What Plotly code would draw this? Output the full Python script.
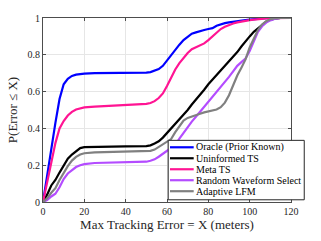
import plotly.graph_objects as go

x_err = [0, 2, 4, 6, 8, 10, 12, 14, 16, 18, 20, 25, 30, 40, 50, 52, 54, 56, 58, 60,
         62, 64, 66, 68, 70, 72, 74, 76, 78, 80, 82, 84, 86, 88, 90, 92, 94, 96, 98, 100,
         102, 104, 106, 108, 110, 112, 115, 120]

oracle = [0, 0.15, 0.3, 0.43, 0.56, 0.64, 0.67, 0.685, 0.692, 0.696, 0.698, 0.70, 0.70, 0.70,
          0.703, 0.706, 0.712, 0.722, 0.74, 0.77, 0.80, 0.827, 0.855, 0.88, 0.90, 0.915,
          0.922, 0.93, 0.935, 0.94, 0.945, 0.958, 0.967, 0.972, 0.976, 0.98, 0.983, 0.985,
          0.988, 0.991, 0.994, 0.997, 0.998, 0.999, 1, 1, 1, 1]

uninformed = [0, 0.04, 0.09, 0.12, 0.16, 0.2, 0.235, 0.258, 0.278, 0.293, 0.298, 0.30, 0.301,
              0.302, 0.304, 0.308, 0.318, 0.33, 0.35, 0.375, 0.40, 0.42, 0.445, 0.47, 0.50,
              0.53, 0.555, 0.58, 0.61, 0.64, 0.665, 0.69, 0.715, 0.735, 0.76, 0.785, 0.815,
              0.845, 0.875, 0.9, 0.925, 0.945, 0.965, 0.98, 0.99, 0.996, 1, 1]

meta = [0, 0.11, 0.23, 0.32, 0.40, 0.44, 0.47, 0.49, 0.503, 0.51, 0.514, 0.518, 0.521, 0.525,
        0.533, 0.538, 0.548, 0.565, 0.59, 0.63, 0.675, 0.72, 0.755, 0.785, 0.81, 0.83, 0.84,
        0.85, 0.862, 0.88, 0.9, 0.922, 0.94, 0.952, 0.962, 0.97, 0.976, 0.981, 0.985, 0.988,
        0.991, 0.994, 0.996, 0.998, 0.999, 1, 1, 1]

random_wf = [0, 0.01, 0.03, 0.045, 0.08, 0.125, 0.155, 0.175, 0.19, 0.2, 0.206, 0.212, 0.214,
             0.216, 0.219, 0.224, 0.232, 0.246, 0.262, 0.275, 0.29, 0.31, 0.345, 0.378, 0.41,
             0.437, 0.463, 0.49, 0.515, 0.54, 0.566, 0.594, 0.622, 0.65, 0.68, 0.71, 0.74,
             0.76, 0.78, 0.82, 0.875, 0.925, 0.955, 0.975, 0.987, 0.995, 1, 1]

adaptive = [0, 0.02, 0.05, 0.075, 0.12, 0.16, 0.195, 0.225, 0.245, 0.258, 0.265, 0.27, 0.271,
            0.272, 0.274, 0.278, 0.285, 0.30, 0.315, 0.33, 0.342, 0.38, 0.415, 0.443, 0.457,
            0.466, 0.474, 0.48, 0.487, 0.493, 0.498, 0.503, 0.515, 0.54, 0.58, 0.635, 0.687,
            0.73, 0.775, 0.84, 0.89, 0.935, 0.965, 0.983, 0.993, 0.998, 1, 1]

names = ["Oracle (Prior Known)", "Uninformed TS", "Meta TS", "Random Waveform Select", "Adaptive LFM"]
series = [oracle, uninformed, meta, random_wf, adaptive]
colors = ["#0000FF", "#000000", "#FF1493", "#B44CFF", "#808080"]

x_ticks = [0, 20, 40, 60, 80, 100, 120]
y_ticks = [0, 0.2, 0.4, 0.6, 0.8, 1]
y_tick_text = ["0", "0.2", "0.4", "0.6", "0.8", "1"]

FONT = "'Liberation Serif', 'Times New Roman', Times, 'DejaVu Serif', serif"
fig = go.Figure()
for name, ys, col in zip(names, series, colors):
    fig.add_trace(go.Scatter(x=x_err, y=ys, mode="lines", name=name,
                             line=dict(color=col, width=2.2), showlegend=False))

axis_common = dict(showline=True, mirror="ticks", linecolor="#4d4d4d", linewidth=1,
                   ticks="inside", ticklen=3, tickcolor="#4d4d4d",
                   showgrid=True, gridcolor="#e6e6e6", gridwidth=1, zeroline=False,
                   tickfont=dict(family=FONT, size=10, color="#262626"))

fig.update_xaxes(range=[0, 120], tickvals=x_ticks,
                 title=dict(text="Max Tracking Error = X (meters)",
                            font=dict(family=FONT, size=13, color="#262626"), standoff=3),
                 **axis_common)
fig.update_yaxes(range=[0, 1], tickvals=y_ticks, ticktext=y_tick_text,
                 title=dict(text="P(Error ≤ X)",
                            font=dict(family=FONT, size=13, color="#262626"), standoff=6),
                 **axis_common)

# manual legend (box, samples, text)
plot_l, plot_r, plot_t, plot_b = 42, 291, 17, 208
def px(xp):
    return (xp - plot_l) / (plot_r - plot_l)
def py(yp):
    return (plot_b - yp) / (plot_b - plot_t)

shapes = [dict(type="rect", xref="paper", yref="paper", x0=px(167.7), x1=px(304.3),
               y0=py(205.7), y1=py(144), fillcolor="white", line=dict(color="#262626", width=1),
               layer="above")]
annotations = []
row_y = [151.2, 162.6, 174.0, 185.4, 196.8]
for name, col, yy in zip(names, colors, row_y):
    shapes.append(dict(type="line", xref="paper", yref="paper", x0=px(169.5), x1=px(193.3),
                       y0=py(yy), y1=py(yy), line=dict(color=col, width=2.2), layer="above"))
    annotations.append(dict(text=name, xref="paper", yref="paper", x=px(193.5), y=py(yy),
                            xanchor="left", yanchor="middle", showarrow=False,
                            font=dict(family=FONT, size=10, color="#000000")))

fig.update_layout(width=321, height=241, margin=dict(l=42, r=30, t=17, b=33),
                  plot_bgcolor="white", paper_bgcolor="white",
                  font=dict(family=FONT),
                  shapes=shapes, annotations=annotations, showlegend=False)

fig.write_html("out.html", config={"displayModeBar": False},
               post_script="document.body.style.margin='0';document.body.style.padding='0';")
